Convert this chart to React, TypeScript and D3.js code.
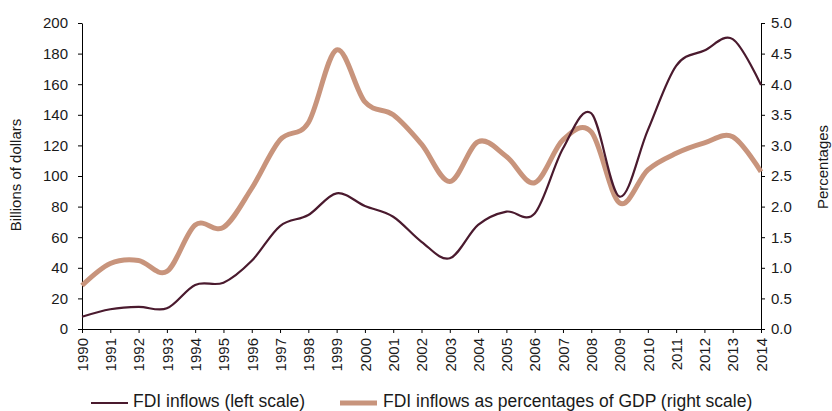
import React, { useEffect, useRef } from "react";
import * as d3 from "d3";

const years = [1990,1991,1992,1993,1994,1995,1996,1997,1998,1999,2000,2001,2002,2003,2004,2005,2006,2007,2008,2009,2010,2011,2012,2013,2014];
const fdiInflows = [8,12.9,14.5,13.5,28.8,30.3,44.6,67.3,74.5,88.7,80.4,73.4,57,46.2,68,76.7,75.5,118,141,86.5,130,172,182,189.5,159.5];
const fdiPctGdp = [0.71,1.07,1.12,0.94,1.7,1.66,2.3,3.09,3.37,4.56,3.71,3.5,3.02,2.41,3.06,2.82,2.39,3.09,3.22,2.06,2.6,2.87,3.04,3.14,2.57];
const leftTicks = [0,20,40,60,80,100,120,140,160,180,200];
const rightTicks = [0,0.5,1,1.5,2,2.5,3,3.5,4,4.5,5];
const legendLabels = ["FDI inflows (left scale)", "FDI inflows as percentages of GDP (right scale)"];
const axisTitles = ["Billions of dollars", "Percentages"];

const W = 832, H = 411;
const M = { left: 82, right: 761, top: 23, bottom: 329 };
const DARK = "#4a1a2e";
const LIGHT = "#c8947c";
const FONT = "'Liberation Sans', Arial, sans-serif";

export default function App() {
  const ref = useRef<SVGSVGElement>(null);
  useEffect(() => {
    const svg = d3.select(ref.current);
    svg.selectAll("*").remove();
    const x = d3.scalePoint<number>().domain(years).range([M.left, M.right]);
    const yL = d3.scaleLinear().domain([0, 200]).range([M.bottom, M.top]);
    const yR = d3.scaleLinear().domain([0, 5]).range([M.bottom, M.top]);

    const styleAxis = (g: any) => {
      g.selectAll("path").attr("stroke", "#000").attr("stroke-width", 1);
      g.selectAll("line").attr("stroke", "#000").attr("stroke-width", 1);
      g.selectAll("text").attr("font-family", FONT).attr("font-size", 15).attr("fill", "#1a1a1a");
    };

    const gl = svg.append("g").attr("transform", `translate(${M.left},0)`)
      .call(d3.axisLeft(yL).tickValues(leftTicks).tickSize(4).tickSizeOuter(0).tickPadding(10).tickFormat(d3.format("d")));
    styleAxis(gl);
    const gr = svg.append("g").attr("transform", `translate(${M.right},0)`)
      .call(d3.axisRight(yR).tickValues(rightTicks).tickSize(4).tickSizeOuter(0).tickPadding(6).tickFormat(d3.format(".1f")));
    styleAxis(gr);
    const gx = svg.append("g").attr("transform", `translate(0,${M.bottom})`)
      .call(d3.axisBottom(x).tickSize(4).tickSizeOuter(0).tickPadding(6).tickFormat(d3.format("d")));
    styleAxis(gx);
    gx.selectAll("text")
      .attr("transform", "rotate(-90)")
      .attr("text-anchor", "end")
      .attr("x", -9)
      .attr("y", 0)
      .attr("dy", "0.35em");

    const curve = d3.curveCardinal.tension(0);
    const lineL = d3.line<number>().x((_, i) => x(years[i])!).y(d => yL(d)).curve(curve);
    const lineR = d3.line<number>().x((_, i) => x(years[i])!).y(d => yR(d)).curve(curve);

    svg.append("path").attr("d", lineR(fdiPctGdp)!).attr("fill", "none")
      .attr("stroke", LIGHT).attr("stroke-width", 5).attr("stroke-linejoin", "round");
    svg.append("path").attr("d", lineL(fdiInflows)!).attr("fill", "none")
      .attr("stroke", DARK).attr("stroke-width", 2.2).attr("stroke-linejoin", "round");

    svg.append("text").attr("transform", `translate(21,175) rotate(-90)`)
      .attr("text-anchor", "middle").attr("font-family", FONT).attr("font-size", 15).attr("fill", "#1a1a1a")
      .text(axisTitles[0]);
    svg.append("text").attr("transform", `translate(828,167) rotate(-90)`)
      .attr("text-anchor", "middle").attr("font-family", FONT).attr("font-size", 15).attr("fill", "#1a1a1a")
      .text(axisTitles[1]);

    const legend = [
      { x1: 91, x2: 128, tx: 133, color: DARK, w: 2.2, label: legendLabels[0] },
      { x1: 340, x2: 377, tx: 383, color: LIGHT, w: 5, label: legendLabels[1] },
    ];
    legend.forEach(l => {
      svg.append("line").attr("x1", l.x1).attr("x2", l.x2).attr("y1", 403).attr("y2", 403)
        .attr("stroke", l.color).attr("stroke-width", l.w);
      svg.append("text").attr("x", l.tx).attr("y", 406.5).attr("font-family", FONT).attr("font-size", 17.5)
        .attr("fill", "#1a1a1a").text(l.label);
    });
  }, []);
  return (
    <svg ref={ref} width={W} height={H} style={{ position: "absolute", left: 0, top: 0, background: "#fff" }} />
  );
}
